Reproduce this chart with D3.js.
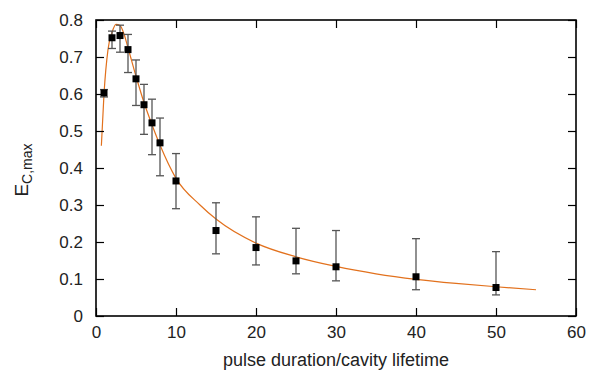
<!DOCTYPE html>
<html>
<head>
<meta charset="utf-8">
<script src="https://cdn.jsdelivr.net/npm/d3@7"></script>
<style>
  body { margin: 0; background: #fff; }
  text { font-family: "Liberation Sans", Arial, sans-serif; }
</style>
</head>
<body>
<div id="chart"></div>
<script>
// measured points (pulse duration / cavity lifetime)
const pulseX = [1, 2, 3, 4, 5, 6, 7, 8, 10, 15, 20, 25, 30, 40, 50];
const eMax   = [0.603, 0.752, 0.758, 0.720, 0.641, 0.571, 0.522, 0.468, 0.365, 0.231, 0.185, 0.149, 0.133, 0.106, 0.077];
const errHi  = [0.612, 0.770, 0.786, 0.761, 0.692, 0.626, 0.586, 0.535, 0.439, 0.306, 0.268, 0.237, 0.231, 0.209, 0.174];
const errLo  = [0.592, 0.723, 0.713, 0.658, 0.569, 0.491, 0.436, 0.379, 0.290, 0.168, 0.138, 0.114, 0.095, 0.071, 0.057];

// model curve
const curveX = [0.67, 1, 1.5, 2, 2.5, 3, 3.5, 4, 5, 6, 7, 8, 10, 13, 15, 20, 25, 30, 35, 40, 45, 50, 55];
const curveY = [0.46, 0.60, 0.72, 0.766, 0.788, 0.785, 0.762, 0.725, 0.648, 0.577, 0.517, 0.462, 0.372, 0.300, 0.262, 0.197, 0.160, 0.134, 0.114, 0.099, 0.088, 0.079, 0.071];

const xTicks = [0, 10, 20, 30, 40, 50, 60];
const yTicks = [0, 0.1, 0.2, 0.3, 0.4, 0.5, 0.6, 0.7, 0.8];

const W = 589, H = 371;
const margin = { top: 20, right: 13, bottom: 55, left: 96 };
const width = W - margin.left - margin.right;
const height = H - margin.top - margin.bottom;

const svg = d3.select('#chart').append('svg')
  .attr('width', W).attr('height', H);
const g = svg.append('g')
  .attr('transform', `translate(${margin.left},${margin.top})`);

const x = d3.scaleLinear().domain([0, 60]).range([0, width]);
const y = d3.scaleLinear().domain([0, 0.8]).range([height, 0]);

// fit curve
const line = d3.line()
  .x(d => x(d[0])).y(d => y(d[1]))
  .curve(d3.curveMonotoneX);
g.append('path')
  .datum(curveX.map((v, i) => [v, curveY[i]]))
  .attr('fill', 'none')
  .attr('stroke', '#e2711d')
  .attr('stroke-width', 1.2)
  .attr('d', line);

// error bars
const pts = pulseX.map((v, i) => ({ x: v, y: eMax[i], hi: errHi[i], lo: errLo[i] }));
const eb = g.append('g').attr('stroke', '#555').attr('stroke-width', 1.3);
pts.forEach(d => {
  eb.append('line').attr('x1', x(d.x)).attr('x2', x(d.x)).attr('y1', y(d.hi)).attr('y2', y(d.lo));
  eb.append('line').attr('x1', x(d.x) - 4).attr('x2', x(d.x) + 4).attr('y1', y(d.hi)).attr('y2', y(d.hi));
  eb.append('line').attr('x1', x(d.x) - 4).attr('x2', x(d.x) + 4).attr('y1', y(d.lo)).attr('y2', y(d.lo));
});

// markers
g.selectAll('.pt').data(pts).enter().append('rect')
  .attr('class', 'pt')
  .attr('x', d => x(d.x) - 3.5).attr('y', d => y(d.y) - 3.5)
  .attr('width', 7).attr('height', 7)
  .attr('fill', '#000');

// axes: ticks pointing inward on all four sides
const tk = 8;
const styleAxis = sel => {
  sel.select('.domain').remove();
  sel.selectAll('.tick line').attr('stroke', '#000').attr('stroke-width', 1.2);
  sel.selectAll('text').attr('fill', '#222').style('font-size', '17px');
};
g.append('g').attr('transform', `translate(0,${height})`)
  .call(d3.axisBottom(x).tickValues(xTicks).tickSizeInner(-tk).tickSizeOuter(0).tickPadding(10).tickFormat(d3.format('d')))
  .call(styleAxis);
g.append('g').attr('transform', 'translate(0,0)')
  .call(d3.axisTop(x).tickValues(xTicks).tickSizeInner(-tk).tickSizeOuter(0).tickFormat(''))
  .call(styleAxis);
g.append('g')
  .call(d3.axisLeft(y).tickValues(yTicks).tickSizeInner(-tk).tickSizeOuter(0).tickPadding(13).tickFormat(d => d === 0 ? '0' : d3.format('.1f')(d)))
  .call(styleAxis);
g.append('g').attr('transform', `translate(${width},0)`)
  .call(d3.axisRight(y).tickValues(yTicks).tickSizeInner(-tk).tickSizeOuter(0).tickFormat(''))
  .call(styleAxis);

// frame
g.append('rect')
  .attr('width', width).attr('height', height)
  .attr('fill', 'none').attr('stroke', '#000').attr('stroke-width', 1.6);

// axis titles
svg.append('text')
  .attr('x', margin.left + width / 2).attr('y', 366)
  .attr('text-anchor', 'middle')
  .attr('fill', '#222').style('font-size', '18px')
  .text('pulse duration/cavity lifetime');

const yl = svg.append('text')
  .attr('transform', 'translate(28,170) rotate(-90)')
  .attr('text-anchor', 'middle')
  .attr('fill', '#222').style('font-size', '19px');
yl.append('tspan').text('E');
yl.append('tspan').attr('dy', 4).style('font-size', '14px').text('C,max');
</script>
</body>
</html>
